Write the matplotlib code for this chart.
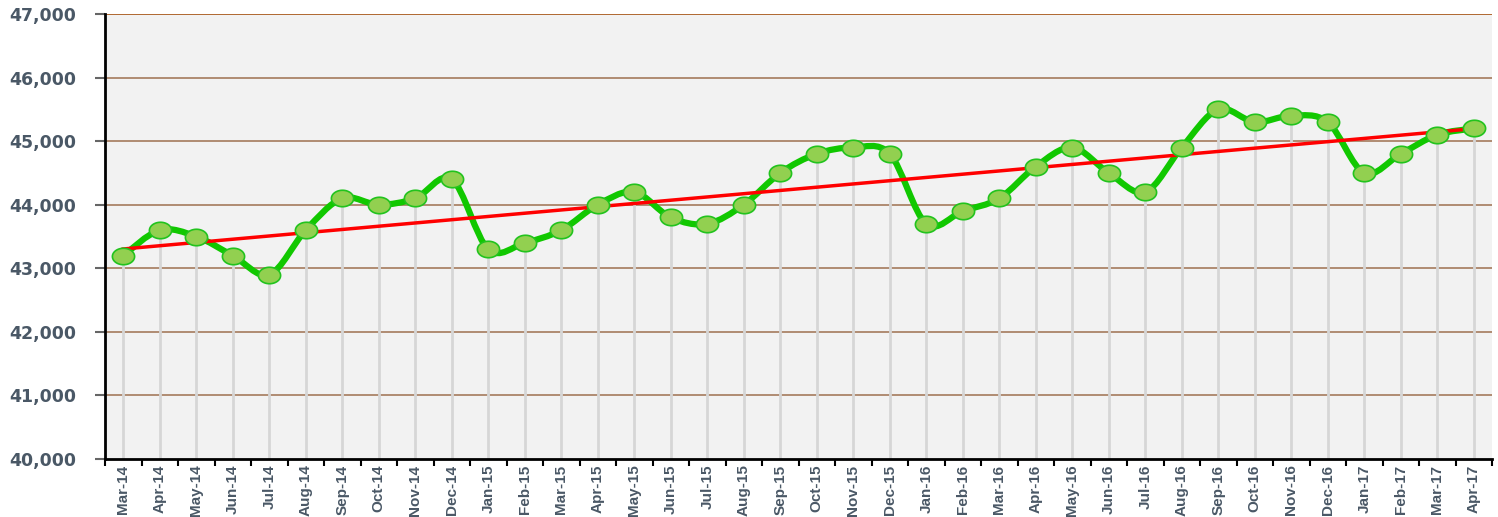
import numpy as np
import matplotlib
matplotlib.use("Agg")
import matplotlib.pyplot as plt
from matplotlib.path import Path
from matplotlib.patches import PathPatch
from matplotlib.ticker import FuncFormatter

months = ["Mar-14", "Apr-14", "May-14", "Jun-14", "Jul-14", "Aug-14", "Sep-14", "Oct-14",
          "Nov-14", "Dec-14", "Jan-15", "Feb-15", "Mar-15", "Apr-15", "May-15", "Jun-15",
          "Jul-15", "Aug-15", "Sep-15", "Oct-15", "Nov-15", "Dec-15", "Jan-16", "Feb-16",
          "Mar-16", "Apr-16", "May-16", "Jun-16", "Jul-16", "Aug-16", "Sep-16", "Oct-16",
          "Nov-16", "Dec-16", "Jan-17", "Feb-17", "Mar-17", "Apr-17"]
values = [43200, 43600, 43500, 43200, 42900, 43600, 44100, 44000,
          44100, 44400, 43300, 43400, 43600, 44000, 44200, 43800,
          43700, 44000, 44500, 44800, 44900, 44800, 43700, 43900,
          44100, 44600, 44900, 44500, 44200, 44900, 45500, 45300,
          45400, 45300, 44500, 44800, 45100, 45200]
y_ticks = [40000, 41000, 42000, 43000, 44000, 45000, 46000, 47000]

x = np.arange(len(months))
y = np.array(values, dtype=float)

fig = plt.figure(figsize=(14.98, 5.17), dpi=100)
ax = fig.add_axes([0.0701, 0.1122, 0.9259, 0.8607])
ax.set_facecolor("#f2f2f2")
ax.set_xlim(-0.5, len(months) - 0.5)
ax.set_ylim(40000, 47000)

# gridlines
for t in y_ticks[1:]:
    col = "#a5500f" if t == 47000 else "#a57a5c"
    ax.axhline(t, color=col, lw=1.2, zorder=1)

# drop lines
ax.vlines(x, 40000, y, colors="#d6d6d6", lw=2, zorder=2)

# smooth curve (Catmull-Rom through the data points)
pts = np.column_stack([x, y])
ext = np.vstack([pts[0], pts, pts[-1]])
verts = [tuple(pts[0])]
codes = [Path.MOVETO]
for i in range(len(pts) - 1):
    p0, p1, p2, p3 = ext[i], ext[i + 1], ext[i + 2], ext[i + 3]
    c1 = p1 + (p2 - p0) / 6.0
    c2 = p2 - (p3 - p1) / 6.0
    verts += [tuple(c1), tuple(c2), tuple(p2)]
    codes += [Path.CURVE4] * 3
ax.add_patch(PathPatch(Path(verts, codes), fill=False, edgecolor="#11c800",
                       lw=4.5, capstyle="round", joinstyle="round", zorder=3))

# trend line
k, b = np.polyfit(x, y, 1)
ax.plot([x[0], x[-1]], [k * x[0] + b, k * x[-1] + b], color="#ff0000", lw=2.5, zorder=4)

# elliptical markers
th = np.linspace(0, 2 * np.pi, 60)
ell = Path(np.column_stack([1.35 * np.cos(th), np.sin(th)]), closed=True)
ax.plot(x, y, linestyle="none", marker=ell, markersize=16, markerfacecolor="#92d050",
        markeredgecolor="#22c31e", markeredgewidth=1.2, zorder=5)

# axes styling
for s in ["top", "right"]:
    ax.spines[s].set_visible(False)
ax.spines["left"].set_linewidth(2)
ax.spines["bottom"].set_linewidth(2)
ax.spines["left"].set_color("black")
ax.spines["bottom"].set_color("black")

ax.set_yticks(y_ticks)
ax.yaxis.set_major_formatter(FuncFormatter(lambda v, p: f"{int(v):,}"))
ax.tick_params(axis="y", length=7, width=1.5, color="#666666", pad=14,
               labelsize=12.5, labelcolor="#4a5866")
for lab in ax.get_yticklabels():
    lab.set_fontweight("bold")
    lab.set_family("DejaVu Sans")

ax.set_xticks(np.arange(-0.5, len(months), 1.0))
ax.set_xticklabels([])
ax.tick_params(axis="x", length=5, width=1.5, color="black")
ax.set_xticks(x, minor=True)
ax.set_xticklabels(months, minor=True, rotation=90, fontsize=11, fontweight="bold",
                   color="#4a5866", family=["Liberation Sans", "DejaVu Sans"])
ax.tick_params(axis="x", which="minor", length=0, pad=4)

fig.savefig("out.png", dpi=100)
